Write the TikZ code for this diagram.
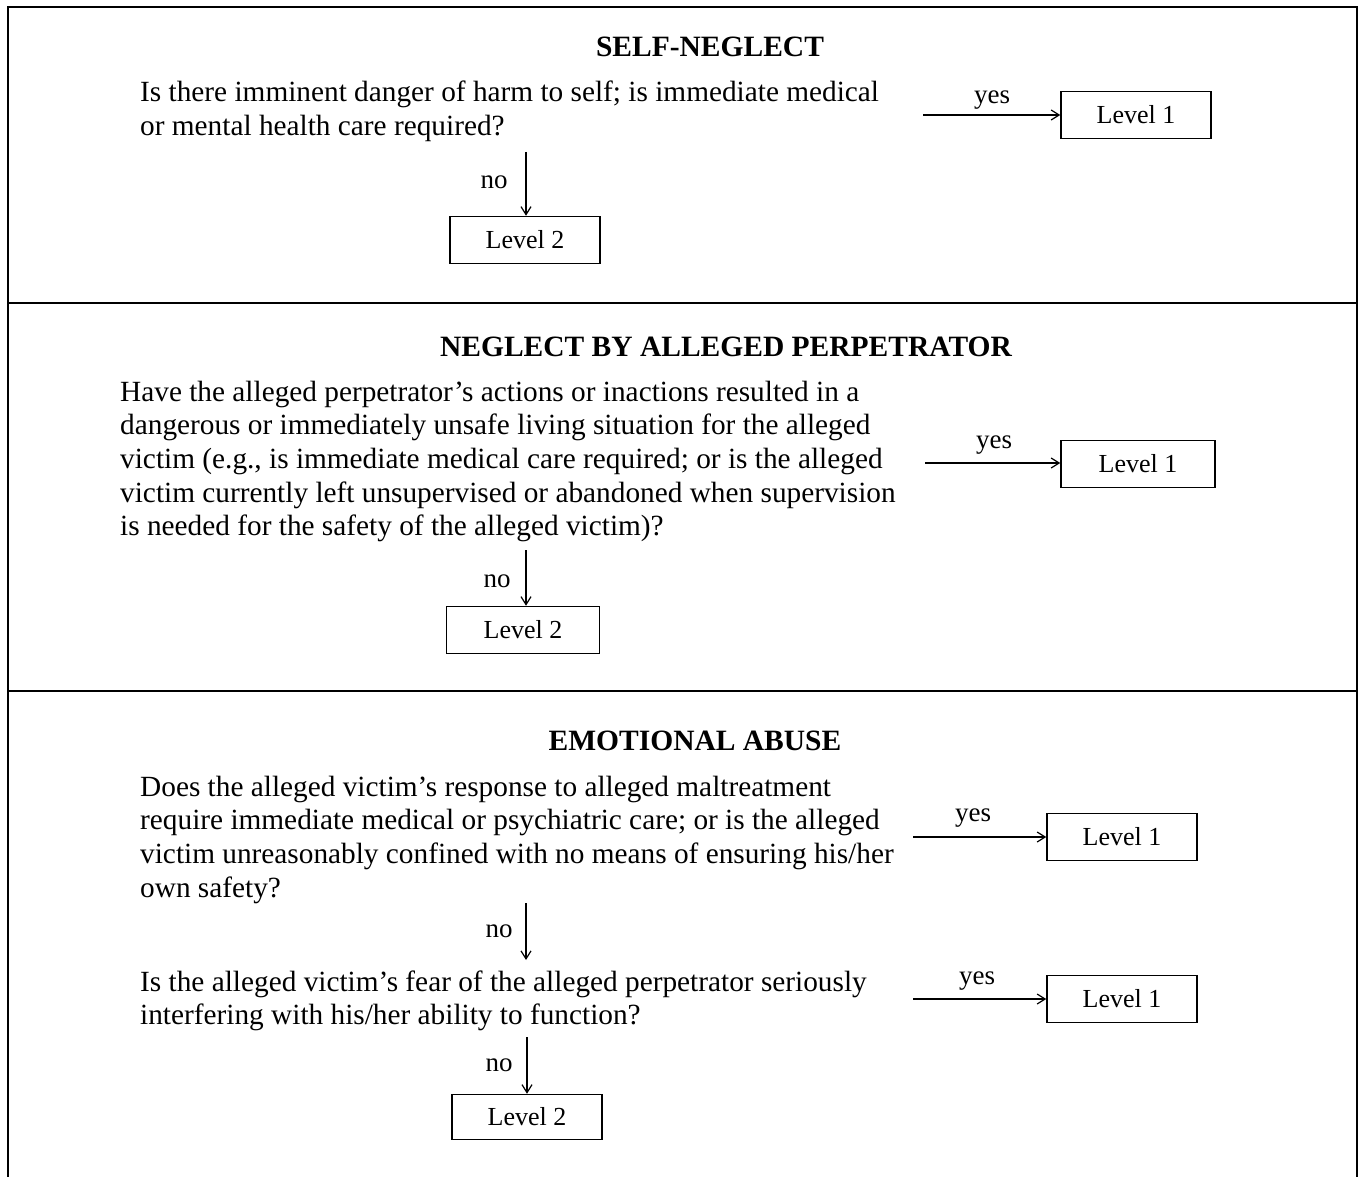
\documentclass[tikz,border=0pt]{standalone}
\usepackage{fontspec}
\setmainfont{Liberation Serif}
\usetikzlibrary{arrows.meta}
\begin{document}
\begin{tikzpicture}[x=1pt,y=-1pt,
  txt/.style={inner sep=0pt,align=left,font=\fontsize{29.3}{33.7}\selectfont},
  ttl/.style={inner sep=0pt,anchor=base,font=\fontsize{29.5}{34}\selectfont\bfseries},
  lvl/.style={draw,line width=1.5pt,minimum width=150pt,minimum height=47pt,inner sep=0pt,font=\fontsize{26}{34}\selectfont},
  lbl/.style={inner sep=0pt,anchor=base,font=\fontsize{27}{34}\selectfont},
  arr/.style={line width=1.2pt,-{Straight Barb[length=8pt,width=10pt]}},
  frame/.style={line width=2.2pt}]
\useasboundingbox (0,0) rectangle (1359,1177);
% frame
\draw[frame] (8,1177) -- (8,7) -- (1357,7) -- (1357,1177);
\draw[frame] (8,303) -- (1357,303);
\draw[frame] (8,691) -- (1357,691);

% Section 1
\node[ttl] (t1) at (710,57) {SELF-NEGLECT};
\node[txt,anchor=base west] (q1) at (140,135.7) {Is there imminent danger of harm to self; is immediate medical\\or mental health care required?};
\node[lvl] (a1) at (1136,115) {Level 1};
\node[lvl] (b1) at (525,240) {Level 2};
\coordinate (y1) at (923,115);
\coordinate (n1) at (526,152);
\draw[arr] (y1) -- (a1.west);
\draw[arr] (n1) -- (n1 |- b1.north);
\node[lbl] (ly1) at (992,104) {yes};
\node[lbl] (ln1) at (494,189) {no};

% Section 2
\node[ttl] (t2) at (726,356) {NEGLECT BY ALLEGED PERPETRATOR};
\node[txt,anchor=base west] (q2) at (120,535.8) {Have the alleged perpetrator’s actions or inactions resulted in a\\dangerous or immediately unsafe living situation for the alleged\\victim (e.g., is immediate medical care required; or is the alleged\\victim currently left unsupervised or abandoned when supervision\\is needed for the safety of the alleged victim)?};
\node[lvl,minimum width=154pt] (a2) at (1138,464) {Level 1};
\node[lvl,minimum width=153pt] (b2) at (523,630) {Level 2};
\coordinate (y2) at (925,463);
\coordinate (n2) at (526,550);
\draw[arr] (y2) -- (y2 -| a2.west);
\draw[arr] (n2) -- (n2 |- b2.north);
\node[lbl] (ly2) at (994,448) {yes};
\node[lbl] (ln2) at (497,587) {no};

% Section 3
\node[ttl] (t3) at (695,750) {EMOTIONAL ABUSE};
\node[txt,anchor=base west] (q3) at (140,897.1) {Does the alleged victim’s response to alleged maltreatment\\require immediate medical or psychiatric care; or is the alleged\\victim unreasonably confined with no means of ensuring his/her\\own safety?};
\node[lvl] (a3) at (1122,837) {Level 1};
\coordinate (y3) at (913,837);
\draw[arr] (y3) -- (a3.west);
\node[lbl] (ly3) at (973,821) {yes};

\node[txt,anchor=base west] (q4) at (140,1024.7) {Is the alleged victim’s fear of the alleged perpetrator seriously\\interfering with his/her ability to function?};
\coordinate (n3) at (526,903);
\coordinate (n3e) at (526,960);
\draw[arr] (n3) -- (n3e);
\node[lbl] (ln3) at (499,937) {no};

\node[lvl] (a4) at (1122,999) {Level 1};
\coordinate (y4) at (913,999);
\draw[arr] (y4) -- (a4.west);
\node[lbl] (ly4) at (977,984) {yes};

\node[lvl,minimum height=45pt] (b4) at (527,1117) {Level 2};
\coordinate (n4) at (527,1037);
\draw[arr] (n4) -- (n4 |- b4.north);
\node[lbl] (ln4) at (499,1071) {no};
\end{tikzpicture}
\end{document}
